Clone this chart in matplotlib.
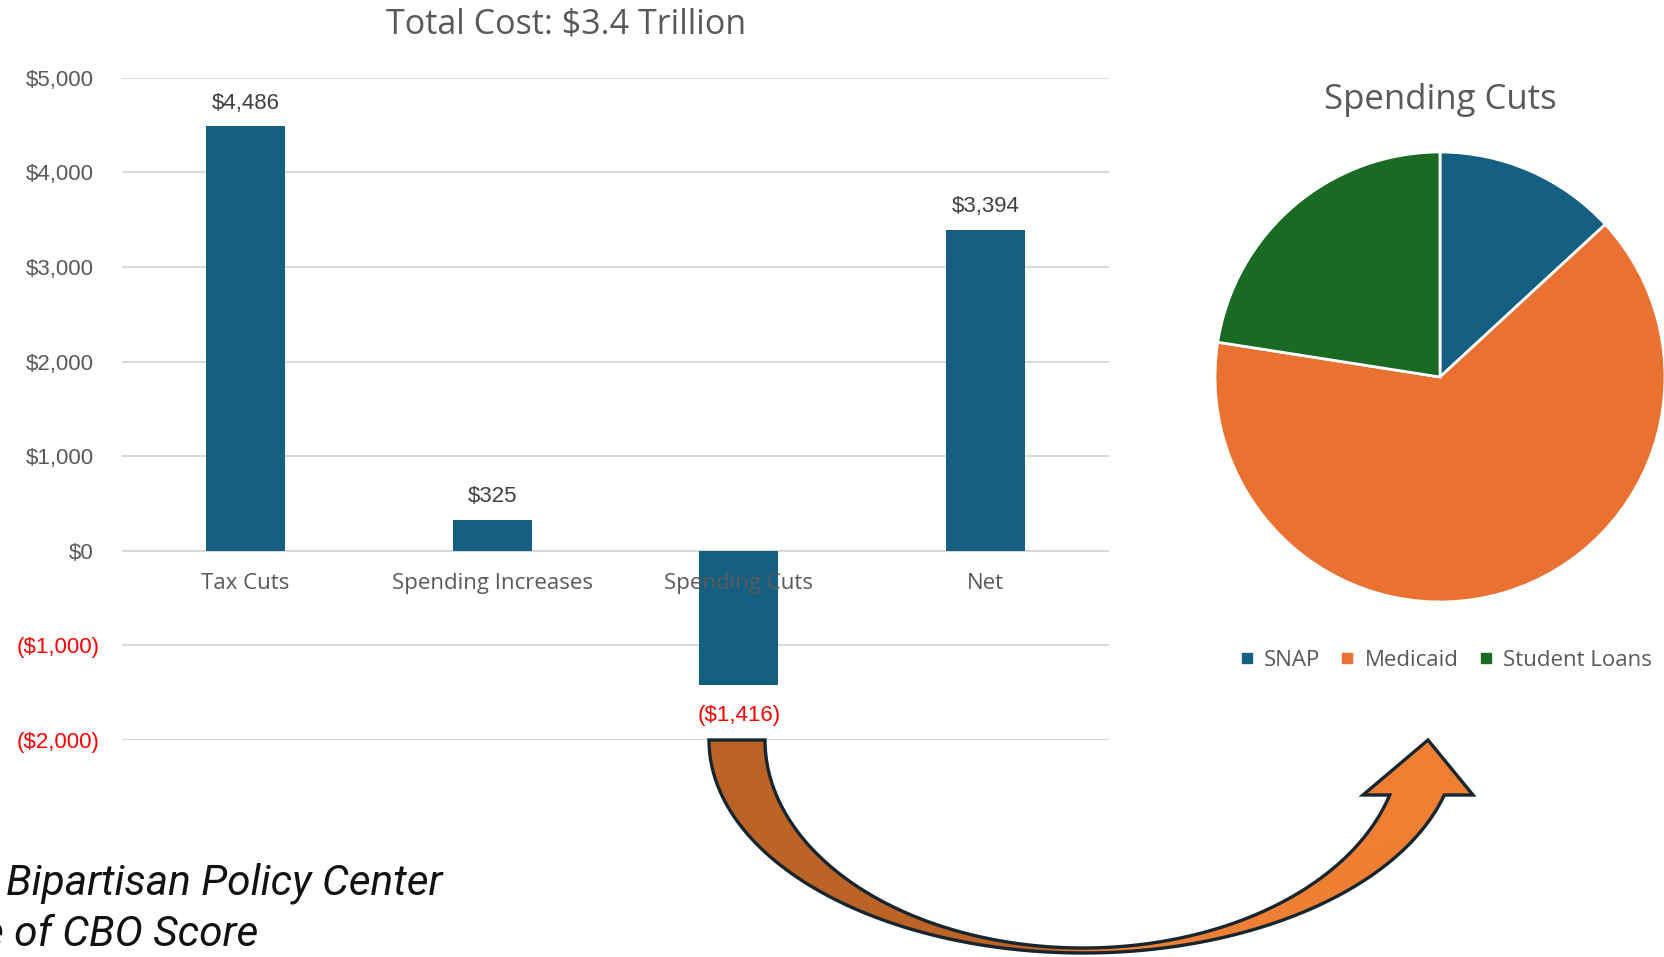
import numpy as np
import matplotlib
matplotlib.use('Agg')
import matplotlib.pyplot as plt
from matplotlib.path import Path
from matplotlib.patches import PathPatch
from matplotlib.colors import LinearSegmentedColormap
from matplotlib.lines import Line2D
from matplotlib.transforms import blended_transform_factory

# data ($ billions)
categories = ['Tax Cuts', 'Spending Increases', 'Spending Cuts', 'Net']
values = [4486, 325, -1416, 3394]
yticks = [-2000, -1000, 0, 1000, 2000, 3000, 4000, 5000]

pie_labels = ['SNAP', 'Medicaid', 'Student Loans']
pie_values = [186, 911, 319]
pie_colors = ['#156082', '#E97132', '#196B24']

W, H = 1665, 957
fig = plt.figure(figsize=(W / 100, H / 100), dpi=100)

arial = ['Liberation Sans', 'DejaVu Sans']
aptos = ['Open Sans', 'DejaVu Sans']
gray = '#595959'

# ---- bar chart
ax = fig.add_axes([122 / W, 1 - 740 / H, (1109 - 122) / W, (740 - 77.7) / H])
x = np.arange(len(categories))
ax.bar(x, values, width=0.32, color='#156082', zorder=2)
ax.set_xlim(-0.5, 3.5)
ax.set_ylim(-2000, 5000)
ax.set_yticks(yticks)
ax.yaxis.grid(True, color='#D9D9D9', linewidth=1.5, zorder=0)
ax.set_axisbelow(True)
for s in ax.spines.values():
    s.set_visible(False)
ax.tick_params(axis='y', length=0, labelleft=False)
ax.set_xticks([])

def money(v):
    if v < 0:
        return '(${:,.0f})'.format(-v)
    return '${:,.0f}'.format(v)

# excel style: positives leave room for the closing paren
tr = blended_transform_factory(fig.transFigure, ax.transData)
for v in yticks:
    if v < 0:
        fig.text(100 / W, v, money(v), transform=tr, ha='right', va='center_baseline',
                 family=arial, fontsize=16, color='#FF0000')
    else:
        fig.text(93.5 / W, v, money(v), transform=tr, ha='right', va='center_baseline',
                 family=arial, fontsize=16, color=gray)

for xi, v in zip(x, values):
    if v >= 0:
        ax.annotate(money(v), (xi, v), xytext=(0, 18.5), textcoords='offset points',
                    ha='center', va='center_baseline', family=arial, fontsize=16, color='#404040')
    else:
        ax.annotate(money(v), (xi, v), xytext=(0, -20.5), textcoords='offset points',
                    ha='center', va='center_baseline', family=arial, fontsize=16, color='#FF0000')

for xi, c in zip(x, categories):
    ax.annotate(c, (xi, 0), xytext=(0, -23.5), textcoords='offset points',
                ha='center', va='center', family=aptos, fontsize=16, color=gray, zorder=5)

fig.text(566 / W, 1 - 24 / H, 'Total Cost: $3.4 Trillion', ha='center', va='center',
         family=aptos, fontsize=24.5, color=gray)

# ---- pie chart
r = 225
axp = fig.add_axes([(1440 - r) / W, 1 - (377 + r) / H, 2 * r / W, 2 * r / H])
axp.pie(pie_values, colors=pie_colors, startangle=90, counterclock=False,
        wedgeprops=dict(edgecolor='white', linewidth=2))
axp.set_aspect('equal')
axp.set_xlim(-1, 1)
axp.set_ylim(-1, 1)
fig.text(1440 / W, 1 - 100 / H, 'Spending Cuts', ha='center', va='center',
         family=aptos, fontsize=25, color=gray)

handles = [Line2D([], [], marker='s', linestyle='', color=c, markersize=7) for c in pie_colors]
fig.legend(handles, pie_labels, loc='center', bbox_to_anchor=(1446 / W, 1 - 660 / H),
           ncol=3, frameon=False, handlelength=0.6, handletextpad=0.5, columnspacing=0.9,
           prop=dict(family=aptos, size=16), labelcolor=gray)

# ---- source note
fig.text(6 / W, 1 - 883 / H, 'Bipartisan Policy Center', ha='left', va='center',
         family=['Roboto', 'DejaVu Sans'], style='italic', fontsize=30.5, color='#111111')
fig.text(-18 / W, 1 - 934 / H, 'e of CBO Score', ha='left', va='center',
         family=['Roboto', 'DejaVu Sans'], style='italic', fontsize=30.5, color='#111111')

# ---- curved arrow (pixel coordinates)
axo = fig.add_axes([0, 0, 1, 1], zorder=10)
axo.set_xlim(0, W)
axo.set_ylim(H, 0)
axo.axis('off')

cx, cy = 1083, 740
a_o, b_o = 374, 213
a_i, b_i = 318, 208
t_o = np.linspace(np.pi, np.arcsin(55 / b_o), 120)
t_i = np.linspace(np.arcsin(55 / b_i), np.pi, 120)
outer = np.column_stack([cx + a_o * np.cos(t_o), cy + b_o * np.sin(t_o)])
inner = np.column_stack([cx + a_i * np.cos(t_i), cy + b_i * np.sin(t_i)])
head = np.array([[1473, 795], [1428, 740], [1363, 795]])
pts = np.vstack([outer, head, inner, outer[:1]])
codes = [Path.MOVETO] + [Path.LINETO] * (len(pts) - 2) + [Path.CLOSEPOLY]
path = Path(pts, codes)

patch = PathPatch(path, facecolor='none', edgecolor='#17252F', linewidth=2.4, zorder=3)
axo.add_patch(patch)
gx = np.linspace(0, 1, 400)
cmap = LinearSegmentedColormap.from_list('arr', [(0, '#BC6326'), (0.44, '#BC6326'),
                                                  (0.5, '#EE7F33'), (1, '#EE7F33')])
im = axo.imshow(gx[None, :], extent=[700, 1480, 960, 730], cmap=cmap, aspect='auto', zorder=2)
im.set_clip_path(patch)

fig.savefig('out.png', dpi=100, facecolor='white')
